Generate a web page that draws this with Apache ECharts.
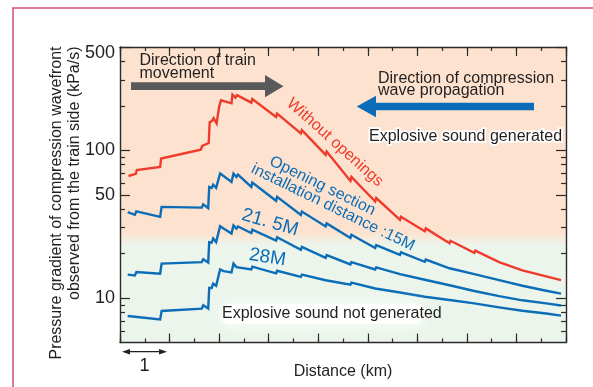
<!DOCTYPE html>
<html>
<head>
<meta charset="utf-8">
<script src="https://cdn.jsdelivr.net/npm/echarts@6/dist/echarts.min.js"></script>
<style>
  html, body { margin: 0; padding: 0; background: #fff; }
  #chart { width: 593px; height: 387px; }
</style>
</head>
<body>
<div id="chart"></div>
<script>
// Distance along the tunnel (km) vs. pressure gradient of the compression wavefront (kPa/s)
const withoutOpenings = [
  [0.17, 67], [0.32, 69.2], [0.34, 73.5], [0.81, 77], [0.83, 88], [1.63, 101], [1.66, 107],
  [1.79, 112], [1.81, 155], [1.86, 158], [1.89, 165], [1.95, 152], [2.0, 197], [2.04, 218],
  [2.25, 208], [2.27, 238], [2.33, 227], [2.36, 236],
  [2.65, 210], [2.67, 222], [3.15, 168], [3.17, 177], [3.65, 130], [3.67, 137],
  [4.15, 93], [4.17, 98], [4.65, 62], [4.67, 66], [5.15, 45], [5.17, 47.5],
  [5.65, 33.8], [5.67, 35.5], [6.15, 28.3], [6.17, 29.6], [6.65, 23.5], [6.67, 24.4],
  [7.15, 20.2], [7.17, 20.9], [7.65, 17.5], [7.67, 18.0], [8.12, 15.4], [8.14, 15.8],
  [8.6, 14.0], [8.62, 14.3], [8.9, 13.2]
];
const openings15m = [
  [0.155, 38.2], [0.30, 36.6], [0.33, 38.6], [0.81, 35.4], [0.84, 41.4], [1.65, 40.9],
  [1.68, 43.1], [1.78, 40.6], [1.80, 56.5], [1.85, 55.6], [1.88, 58.5], [1.94, 55.6],
  [2.02, 69.6], [2.09, 66.9], [2.25, 61], [2.29, 69.6], [2.35, 66], [2.38, 68.5],
  [2.65, 56.5], [2.67, 60.5], [3.15, 45.5], [3.17, 48.5], [3.65, 36.5], [3.67, 38.5],
  [4.15, 30.5], [4.17, 32], [4.65, 25.5], [4.67, 26.8], [5.15, 21.8], [5.17, 22.8],
  [5.65, 19.6], [5.67, 20.4], [6.15, 17.6], [6.17, 18.2], [6.65, 15.9], [6.67, 16.4],
  [7.15, 14.5], [7.17, 14.9], [7.65, 13.2], [7.67, 13.5], [8.12, 12.1], [8.14, 12.35],
  [8.6, 11.2], [8.62, 11.4], [8.9, 10.7]
];
const openings21m = [
  [0.155, 14.4], [0.30, 14.2], [0.33, 15.0], [0.81, 14.6], [0.84, 17.1], [1.65, 17.5],
  [1.68, 18.3], [1.78, 17.4], [1.80, 23.9], [1.85, 23.7], [1.88, 25.3], [1.94, 23.9],
  [2.02, 30.6], [2.09, 29.5], [2.25, 27.3], [2.29, 31], [2.35, 29.5], [2.38, 30.5],
  [2.65, 27.5], [2.67, 29], [3.15, 24.5], [3.17, 25.8], [3.65, 21.2], [3.67, 22.2],
  [4.15, 18.7], [4.17, 19.5], [4.65, 16.9], [4.67, 17.5], [5.15, 15.6], [5.17, 16.1],
  [5.65, 14.5], [5.67, 14.9], [6.15, 13.3], [6.17, 13.6], [6.65, 12.2], [6.67, 12.45],
  [7.15, 11.15], [7.17, 11.4], [7.65, 10.3], [7.67, 10.5], [8.12, 9.65], [8.14, 9.8],
  [8.6, 9.2], [8.62, 9.3], [8.9, 8.9]
];
const openings28m = [
  [0.155, 7.55], [0.81, 7.17], [0.84, 8.17], [1.65, 8.48], [1.68, 8.92], [1.78, 8.48],
  [1.80, 11.7], [1.85, 11.7], [1.88, 12.5], [1.94, 12.1], [2.02, 15.6], [2.09, 15.2],
  [2.25, 14.9], [2.29, 17.1], [2.35, 16.2], [2.38, 16.7],
  [2.65, 15.6], [2.67, 16.3], [3.15, 14.7], [3.17, 15.3], [3.65, 13.9], [3.67, 14.4],
  [4.15, 13.2], [4.17, 13.6], [4.65, 12.3], [4.67, 12.7], [5.15, 11.6], [5.17, 11.9],
  [5.65, 10.9], [5.67, 11.15], [6.15, 10.2], [6.17, 10.4], [6.65, 9.7], [6.67, 9.85],
  [7.15, 9.2], [7.17, 9.3], [7.65, 8.65], [7.67, 8.75], [8.12, 8.2], [8.14, 8.28],
  [8.6, 7.85], [8.62, 7.9], [8.9, 7.6]
];

// Axis ranges and tick marks
const xRange = [0, 9];
const yRange = [5, 500];
const yMajorTicks = [10, 50, 100, 500];
const yMinorTicks = [6, 7, 8, 9, 20, 30, 40, 60, 70, 80, 90, 200, 300, 400];
const xMajorStep = 1;
const xMinorStep = 0.5;

const FONT = 'Liberation Sans, Arial, Helvetica, sans-serif';
const INK = '#231f20';
const AXIS = '#2b2b2b';
const RED = '#ee3b2c';
const BLUE = '#0b6db7';
const PEACH = '#fde3cf';
const MINT = '#ecf5ec';

const chart = echarts.init(document.getElementById('chart'), null, { renderer: 'canvas' });

const LOG_MIN = Math.log10(yRange[0]);
const LOG_MAX = Math.log10(yRange[1]);

function xAxisDef(position, step, tickLen, withLine, withName) {
  return {
    type: 'value', position: position, min: xRange[0], max: xRange[1], interval: step,
    axisLine: { show: withLine, onZero: false, lineStyle: { color: AXIS, width: 1.4 } },
    axisTick: { show: true, inside: true, length: tickLen, lineStyle: { color: AXIS, width: 1.2 } },
    axisLabel: { show: false },
    splitLine: { show: false },
    name: withName ? 'Distance (km)' : '',
    nameLocation: 'middle', nameGap: 21,
    nameTextStyle: { color: INK, fontFamily: FONT, fontSize: 16 }
  };
}

// tick decoration axes share the log scale of the data axis (in log10 units)
function yTickAxis(position, ticks, tickLen, withLine, withLabels) {
  const vals = ticks.map(function (t) { return Math.log10(t); });
  return {
    type: 'value', position: position, min: LOG_MIN, max: LOG_MAX,
    axisLine: { show: withLine, onZero: false, lineStyle: { color: AXIS, width: 1.4 } },
    axisTick: { show: true, inside: true, length: tickLen, customValues: vals, lineStyle: { color: AXIS, width: 1.2 } },
    axisLabel: {
      show: withLabels, customValues: vals, margin: 5,
      color: INK, fontFamily: FONT, fontSize: 18,
      formatter: function (v) {
        const n = Math.round(Math.pow(10, v));
        return n === yRange[1] ? '{top|' + n + '}' : String(n);
      },
      rich: { top: { color: INK, fontFamily: FONT, fontSize: 18, padding: [13, 0, 0, 0] } }
    },
    splitLine: { show: false }
  };
}

function lineSeries(name, data, color) {
  return {
    name: name, type: 'line', data: data, xAxisIndex: 0, yAxisIndex: 0,
    showSymbol: false, symbol: 'none', silent: true,
    lineStyle: { color: color, width: 2.4, join: 'miter', miterLimit: 4 },
    z: 5
  };
}

function label(text, x, y, opts) {
  opts = opts || {};
  return {
    type: 'text', x: x, y: y, rotation: opts.rotation || 0, silent: true, z: opts.z || 20,
    style: Object.assign({
      text: text, fill: opts.color || INK, fontFamily: FONT, fontSize: opts.size || 16,
      align: opts.align || 'left', verticalAlign: 'middle'
    }, opts.style || {})
  };
}

const deg = Math.PI / 180;

const option = {
  animation: false,
  backgroundColor: '#ffffff',
  grid: {
    left: 120, top: 47, right: 27, bottom: 44.5, show: true, borderWidth: 0,
    backgroundColor: {
      type: 'linear', x: 0, y: 0, x2: 0, y2: 1,
      colorStops: [
        { offset: 0, color: PEACH }, { offset: 0.628, color: PEACH },
        { offset: 0.672, color: MINT }, { offset: 1, color: MINT }
      ]
    }
  },
  xAxis: [
    xAxisDef('bottom', xMajorStep, 9, true, true),
    xAxisDef('bottom', xMinorStep, 4, false, false),
    xAxisDef('top', xMajorStep, 9, true, false),
    xAxisDef('top', xMinorStep, 4, false, false)
  ],
  yAxis: [
    {
      type: 'log', logBase: 10, min: yRange[0], max: yRange[1], position: 'left',
      axisLine: { show: false }, axisTick: { show: false }, axisLabel: { show: false },
      splitLine: { show: false }
    },
    yTickAxis('left', yMajorTicks, 10, true, true),
    yTickAxis('left', yMinorTicks, 5, false, false),
    yTickAxis('right', yMajorTicks, 10, true, false),
    yTickAxis('right', yMinorTicks, 5, false, false)
  ],
  series: [
    lineSeries('Without openings', withoutOpenings, RED),
    lineSeries('15M', openings15m, BLUE),
    lineSeries('21.5M', openings21m, BLUE),
    lineSeries('28M', openings28m, BLUE)
  ]
};

chart.setOption(option);

// one-kilometre scale bar below the axis
const sx0 = chart.convertToPixel({ xAxisIndex: 0 }, 0.04);
const sx1 = chart.convertToPixel({ xAxisIndex: 0 }, 0.95);
const sy = 351.7;

chart.setOption({
  graphic: [
    { type: 'rect', silent: true, z: 30, shape: { x: 13, y: 8, width: 640, height: 440 },
      style: { fill: 'none', stroke: '#d24f7c', lineWidth: 1.5 } },

    // axis title, two lines reading upward, aligned to the top of the plot
    label('Pressure gradient of compression wavefront', 57, 46.5,
      { rotation: 90 * deg, align: 'right', size: 16 }),
    label('observed from the train side (kPa/s)', 74.5, 46.5,
      { rotation: 90 * deg, align: 'right', size: 16 }),

    // direction of the train
    label('Direction of train\nmovement', 139.5, 67, { size: 16, style: { lineHeight: 12.5 } }),
    { type: 'polygon', silent: true, z: 15,
      shape: { points: [[131, 82.3], [265, 82.3], [265, 75], [283.5, 86.2], [265, 97.2], [265, 90], [131, 90]] },
      style: { fill: '#58595b' } },

    // direction of the compression wave
    label('Direction of compression\nwave propagation', 378, 84.3, { size: 16, style: { lineHeight: 12.2 } }),
    { type: 'polygon', silent: true, z: 15,
      shape: { points: [[534, 102.7], [376, 102.7], [376, 95.7], [356.7, 106.5], [376, 117.3], [376, 110.3], [534, 110.3]] },
      style: { fill: BLUE } },

    label('Explosive sound generated', 369, 136.3,
      { size: 16, style: { stroke: '#ffffff', lineWidth: 3.5 } }),

    // soft white patch behind the lower note
    { type: 'rect', silent: true, z: 18, shape: { x: 222, y: 304, width: 200, height: 20, r: 6 },
      style: { fill: 'rgba(255,255,255,0.95)', shadowBlur: 12, shadowColor: '#ffffff' } },
    label('Explosive sound not generated', 222, 314, { size: 16 }),

    // curve labels
    label('Without openings', 335, 142.5, { rotation: -42 * deg, align: 'center', size: 16, color: RED }),
    label('Opening section', 322.5, 186, { rotation: -26 * deg, align: 'center', size: 16, color: BLUE }),
    label('installation distance :15M', 333, 207.5, { rotation: -26 * deg, align: 'center', size: 16, color: BLUE }),
    label('21. 5M', 270, 222.5, { rotation: -16 * deg, align: 'center', size: 19, color: BLUE }),
    label('28M', 267.5, 257.5, { rotation: -9 * deg, align: 'center', size: 19, color: BLUE }),

    // scale bar
    { type: 'line', silent: true, z: 15, shape: { x1: sx0 + 4, y1: sy, x2: sx1 - 4, y2: sy },
      style: { stroke: INK, lineWidth: 1.2 } },
    { type: 'polygon', silent: true, z: 15,
      shape: { points: [[sx0, sy], [sx0 + 8, sy - 2.8], [sx0 + 8, sy + 2.8]] }, style: { fill: INK } },
    { type: 'polygon', silent: true, z: 15,
      shape: { points: [[sx1, sy], [sx1 - 8, sy - 2.8], [sx1 - 8, sy + 2.8]] }, style: { fill: INK } },
    label('1', (sx0 + sx1) / 2, 366.5, { align: 'center', size: 18 })
  ]
});
</script>
</body>
</html>
